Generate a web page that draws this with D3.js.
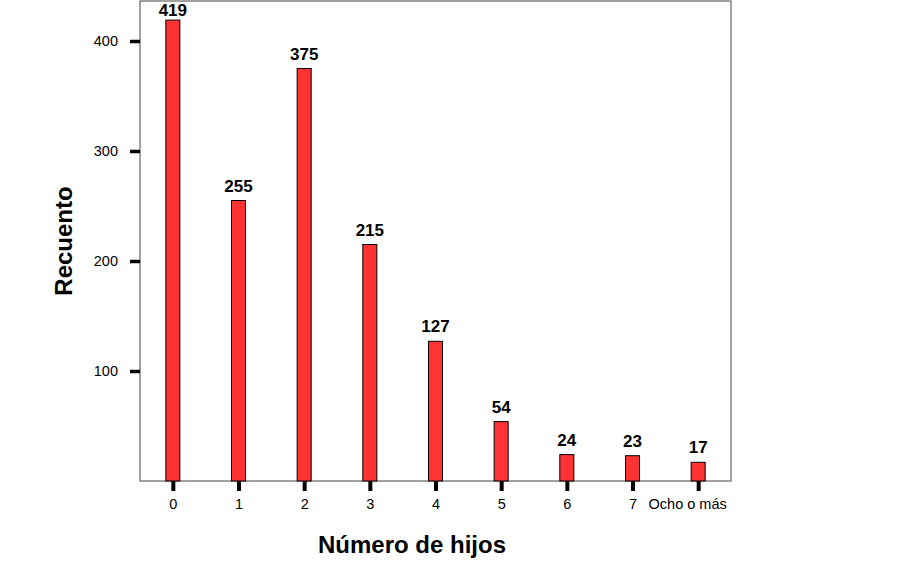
<!DOCTYPE html>
<html>
<head>
<meta charset="utf-8">
<script src="https://cdn.jsdelivr.net/npm/d3@7"></script>
<style>
  body { margin: 0; background: #fff; }
  svg text { font-family: Arial, "Liberation Sans", sans-serif; }
</style>
</head>
<body>
<div id="chart"></div>
<script>
// data
const categories = ['0', '1', '2', '3', '4', '5', '6', '7', 'Ocho o más'];
const counts = [419, 255, 375, 215, 127, 54, 24, 23, 17];
const yTicks = [100, 200, 300, 400];

const w = 902;
const h = 567;
const padLeft = 140, padRight = 731, padTop = 1, padBottom = 481;

const svg = d3.select('#chart')
    .append('svg')
    .attr('width', w)
    .attr('height', h);

const xScale = d3.scalePoint()
    .domain(categories)
    .range([padLeft, padRight])
    .padding(0.5);

const yScale = d3.scaleLinear()
    .domain([0, 400])
    .range([padBottom, padBottom - 440]);

const barW = 14;

// frame
svg.append('rect')
    .attr('x', padLeft)
    .attr('y', padTop)
    .attr('width', padRight - padLeft)
    .attr('height', padBottom - padTop)
    .attr('fill', 'none')
    .attr('stroke', '#444')
    .attr('stroke-width', 1);

// bars
svg.selectAll('rect.bar')
    .data(counts)
    .enter()
    .append('rect')
    .attr('class', 'bar')
    .attr('x', (d, i) => xScale(categories[i]) - barW / 2)
    .attr('y', d => yScale(d))
    .attr('width', barW)
    .attr('height', d => padBottom - yScale(d))
    .attr('fill', '#ff3333')
    .attr('stroke', '#000')
    .attr('stroke-width', 1);

// value labels
svg.selectAll('text.val')
    .data(counts)
    .enter()
    .append('text')
    .attr('class', 'val')
    .attr('x', (d, i) => xScale(categories[i]))
    .attr('y', d => Math.max(yScale(d) - 9, 16))
    .attr('text-anchor', 'middle')
    .attr('font-weight', 'bold')
    .attr('font-size', 17)
    .text(d => d);

// x axis
const xAxis = svg.append('g')
    .attr('transform', `translate(0, ${padBottom})`)
    .call(d3.axisBottom(xScale).tickSize(10).tickPadding(8));
xAxis.select('.domain').remove();
xAxis.selectAll('.tick line').attr('stroke', '#000').attr('stroke-width', 4);
xAxis.selectAll('.tick text')
    .attr('font-size', 14.5)
    .attr('fill', '#000')
    .attr('dx', d => d === 'Ocho o más' ? -11 : 0);

// y axis
const yAxis = svg.append('g')
    .attr('transform', `translate(${padLeft}, 0)`)
    .call(d3.axisLeft(yScale).tickValues(yTicks).tickSize(10).tickPadding(12));
yAxis.select('.domain').remove();
yAxis.selectAll('.tick line').attr('stroke', '#000').attr('stroke-width', 3.5);
yAxis.selectAll('.tick text').attr('font-size', 14.5).attr('fill', '#000');

// axis titles
svg.append('text')
    .attr('x', 412)
    .attr('y', 553)
    .attr('text-anchor', 'middle')
    .attr('font-weight', 'bold')
    .attr('font-size', 24)
    .text('Número de hijos');

svg.append('text')
    .attr('transform', 'translate(72, 241) rotate(-90)')
    .attr('text-anchor', 'middle')
    .attr('font-weight', 'bold')
    .attr('font-size', 24)
    .text('Recuento');
</script>
</body>
</html>
